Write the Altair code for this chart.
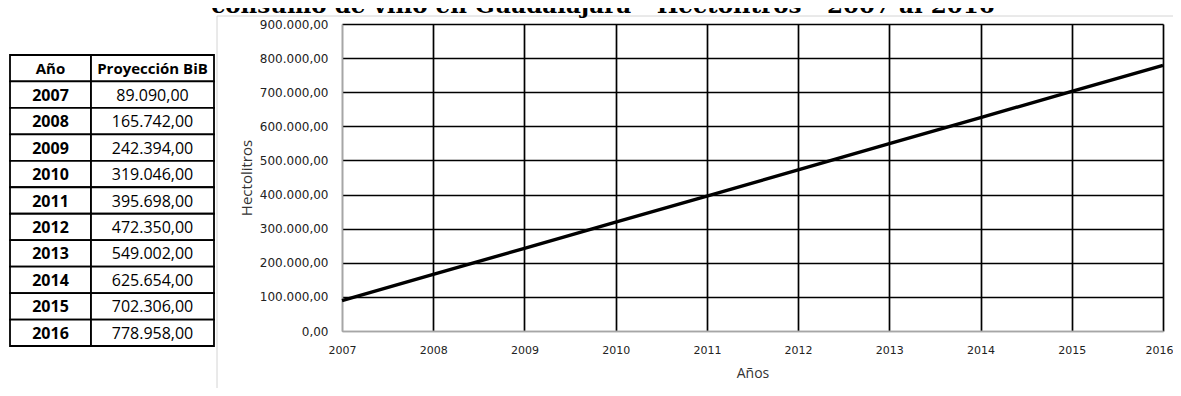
import altair as alt
import pandas as pd

# ---------------- data ----------------
years = [2007, 2008, 2009, 2010, 2011, 2012, 2013, 2014, 2015, 2016]
values = [89090.00, 165742.00, 242394.00, 319046.00, 395698.00,
          472350.00, 549002.00, 625654.00, 702306.00, 778958.00]
y_ticks = [0, 100000, 200000, 300000, 400000, 500000, 600000, 700000, 800000, 900000]
col_headers = ["Año", "Proyección BiB"]
title_text = "consumo de vino en Guadalajara - Hectolitros - 2007 al 2016"
x_title = "Años"
y_title = "Hectolitros"


def es_num(v):
    return f"{v:,.2f}".replace(",", "#").replace(".", ",").replace("#", ".")


line_df = pd.DataFrame({"Año": years, "Hectolitros": values})

# table built from the arrays above
row_ids = ["h"] + [str(y) for y in years]
col_left = [0, 81]
col_right = [81, 204]
cells = []
for r in row_ids:
    for c in range(2):
        cells.append({"row": r, "x0": col_left[c], "x1": col_right[c]})
cells_df = pd.DataFrame(cells)

header_df = pd.DataFrame({
    "row": ["h", "h"],
    "xc": [(col_left[0] + col_right[0]) / 2, (col_left[1] + col_right[1]) / 2],
    "t": col_headers,
})
year_df = pd.DataFrame({
    "row": [str(y) for y in years],
    "xc": [(col_left[0] + col_right[0]) / 2] * len(years),
    "t": [str(y) for y in years],
})
val_df = pd.DataFrame({
    "row": [str(y) for y in years],
    "xc": [(col_left[1] + col_right[1]) / 2] * len(years),
    "t": [es_num(v) for v in values],
})

tx = alt.Scale(domain=[0, 204], range=[-332, -128], nice=False, zero=False)
ty = alt.Scale(domain=row_ids, range=[31, 322], paddingInner=0, paddingOuter=0)

table_cells = alt.Chart(cells_df).mark_rect(
    fill="white", stroke="black", strokeWidth=1.8
).encode(
    x=alt.X("x0:Q", scale=tx, axis=None),
    x2="x1:Q",
    y=alt.Y("row:N", scale=ty, axis=None, sort=row_ids),
)


def table_text(df, weight, size):
    return alt.Chart(df).mark_text(
        font="Open Sans", fontWeight=weight, fontSize=size, color="black",
        align="center", baseline="middle", dy=1
    ).encode(
        x=alt.X("xc:Q", scale=tx, axis=None),
        y=alt.Y("row:N", scale=ty, axis=None, sort=row_ids),
        text="t:N",
    )


header_txt = table_text(header_df, "bold", 15)
year_txt = table_text(year_df, "bold", 16)
val_txt = table_text(val_df, "normal", 16)

# ---------------- main line chart ----------------
label_expr = ("replace(replace(replace(format(datum.value, ',.2f'), ',', '_'), '.', ','), '_', '.')")

line = alt.Chart(line_df).mark_line(color="black", strokeWidth=3.4).encode(
    x=alt.X(
        "Año:Q",
        scale=alt.Scale(domain=[2007, 2016], nice=False, zero=False),
        axis=alt.Axis(
            values=years, format="d", title=x_title, grid=True,
            gridColor={"condition": {"test": "datum.value == 2007", "value": "#a6a6a6"}, "value": "black"},
            gridWidth=1.7, ticks=False, domainColor="#a6a6a6", domainWidth=1.5,
            labelFont="DejaVu Sans", labelFontSize=11, labelColor="#222222",
            labelBaseline="middle", labelPadding=19, labelFlush=False,
            labelOffset={"condition": {"test": "datum.value == 2016", "value": -4}, "value": 0},
            titleFont="Open Sans", titleFontSize=14, titleFontWeight="normal", titleColor="#333333",
            titleX=410.5, titleY=42, titleBaseline="middle", titleAlign="center",
        ),
    ),
    y=alt.Y(
        "Hectolitros:Q",
        scale=alt.Scale(domain=[0, 900000], nice=False),
        axis=alt.Axis(
            values=y_ticks, labelExpr=label_expr, title=y_title, grid=True,
            gridColor={"condition": {"test": "datum.value == 0", "value": "#a6a6a6"}, "value": "black"},
            gridWidth=1.7, ticks=False, domainColor="#a6a6a6", domainWidth=1.5,
            labelFont="DejaVu Sans", labelFontSize=12, labelColor="#222222",
            labelPadding=14, labelFlush=False,
            titleFont="Open Sans", titleFontSize=15, titleFontWeight="normal", titleColor="#333333",
            titleX=-96, titleY=153.5, titleAngle=270, titleBaseline="middle", titleAlign="center",
        ),
    ),
)

# chart-area frame (light gray, like the spreadsheet chart border)
frame_left = alt.Chart(pd.DataFrame({"a": [0]})).mark_rule(color="#d4d4d4", strokeWidth=1).encode(
    x=alt.value(-125), y=alt.value(-8), y2=alt.value(380)
)
frame_top = alt.Chart(pd.DataFrame({"a": [0]})).mark_rule(color="#d4d4d4", strokeWidth=1).encode(
    x=alt.value(-125), x2=alt.value(840), y=alt.value(-8)
)

title = alt.Chart(pd.DataFrame({"t": [title_text]})).mark_text(
    font="DejaVu Serif", fontWeight="bold", fontSize=23, color="black",
    align="center", baseline="alphabetic"
).encode(text="t:N", x=alt.value(261), y=alt.value(-11))

chart = alt.layer(
    frame_left, frame_top, table_cells, header_txt, year_txt, val_txt, line, title
).resolve_scale(
    x="independent", y="independent"
).properties(
    width=821, height=307,
    autosize=alt.AutoSizeParams(type="none"),
    padding={"left": 334, "top": 16, "right": 10, "bottom": 57},
).configure_view(strokeWidth=0).configure(background="white")

chart.save("out.html", embed_options={"renderer": "svg", "actions": False})
